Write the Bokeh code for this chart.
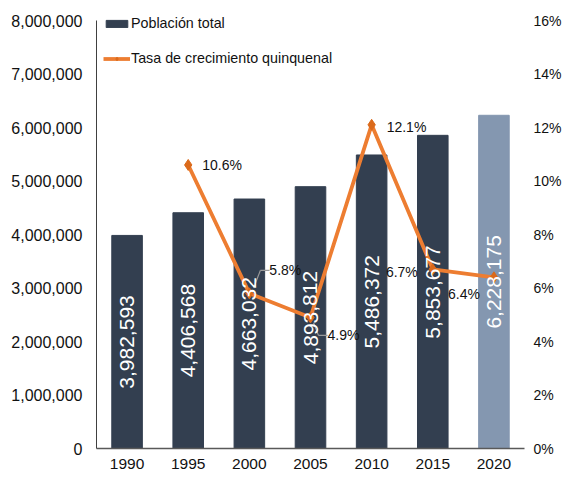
from bokeh.plotting import figure
from bokeh.models import (FactorRange, Range1d, LinearAxis, FixedTicker,
                          NumeralTickFormatter, ColumnDataSource, Legend, LegendItem)
from bokeh.transform import dodge
from bokeh.embed import file_html
from bokeh.resources import INLINE
from bokeh.core.properties import value

years = ["1990", "1995", "2000", "2005", "2010", "2015", "2020"]
population = [3982593, 4406568, 4663032, 4893812, 5486372, 5853677, 6228175]
rate_years = ["1995", "2000", "2005", "2010", "2015", "2020"]
rate = [10.6, 5.8, 4.9, 12.1, 6.7, 6.4]

FONT = "Liberation Sans, Arial, sans-serif"
TXT = "#111111"

bar_colors = ["#333f50"] * 6 + ["#8497b0"]

# frame is a little taller than the axes so the legend is not clipped; axes are bounded
POP_MAX, PCT_MAX = 8000000, 0.16
STRETCH = 438 / 428

p = figure(width=567, height=483, x_range=FactorRange(*years, range_padding=0),
           y_range=Range1d(0, POP_MAX * STRETCH), output_backend="svg", toolbar_location=None,
           min_border_left=96, min_border_right=43, min_border_top=10, min_border_bottom=35)
p.extra_y_ranges = {"pct": Range1d(0, PCT_MAX * STRETCH)}
p.outline_line_color = None
p.xgrid.visible = False
p.ygrid.visible = False

src = ColumnDataSource(dict(x=years, top=population, color=bar_colors,
                            half=[v / 2 for v in population],
                            lab=[f"{v:,}" for v in population]))
bars = p.vbar(x="x", top="top", width=0.5, color="color", source=src)

# leader lines for two labels (offsets relative to their points: category units, percent points)
leader_pts = {"2000": ([0.07, 0.18, 0.33], [0.2, 0.86, 0.86]),
              "2005": ([0.05, 0.13, 0.28], [-0.2, -0.67, -0.67])}
for yr, (dxs, dys) in leader_pts.items():
    r = rate[rate_years.index(yr)]
    for k in range(len(dxs) - 1):
        s = ColumnDataSource(dict(x=[yr], y0=[(r + dys[k]) / 100], y1=[(r + dys[k + 1]) / 100]))
        p.segment(x0=dodge("x", dxs[k], range=p.x_range), x1=dodge("x", dxs[k + 1], range=p.x_range),
                  y0="y0", y1="y1", source=s, y_range_name="pct",
                  line_color="#9a9a9a", line_width=1.2)

lsrc = ColumnDataSource(dict(x=rate_years, y=[r / 100 for r in rate],
                             lab=[f"{r:.1f}%" for r in rate]))
ln = p.line(x="x", y="y", source=lsrc, y_range_name="pct", line_color="#ed7d31", line_width=3.8)
mk = p.scatter(x="x", y="y", source=lsrc, y_range_name="pct", marker="diamond", size=11,
               fill_color="#db6a1b", line_color="#db6a1b")

# bar value labels (rotated, centred in bar)
p.text(x="x", y="half", text="lab", source=src, angle=1.5708, text_color="white",
       text_font=value(FONT), text_font_size="21px", text_align="center", text_baseline="middle")

# percentage labels: per-point placement (layout only)
lsrc.data["xo"] = [14, 20, 17, 15, -15, -14]
lsrc.data["yo"] = [0, -23, 18, 2, 3, 17]
lsrc.data["al"] = ["left", "left", "left", "left", "right", "right"]
p.text(x="x", y="y", text="lab", source=lsrc, y_range_name="pct", x_offset="xo", y_offset="yo",
       text_align="al", text_font=value(FONT), text_font_size="14px", text_color=TXT,
       text_baseline="middle")

# axes
p.yaxis.ticker = FixedTicker(ticks=[i * 1000000 for i in range(9)])
p.yaxis.formatter = NumeralTickFormatter(format="0,0")
p.yaxis.bounds = (0, POP_MAX)
p.yaxis.major_label_text_font = FONT
p.yaxis.major_label_text_font_size = "16px"
p.yaxis.major_label_text_color = TXT
p.yaxis.major_tick_line_color = None
p.yaxis.major_tick_out = 0
p.yaxis.major_tick_in = 0
p.yaxis.minor_tick_line_color = None
p.yaxis.minor_tick_out = 0
p.yaxis.axis_line_color = "#404040"
p.yaxis.major_label_standoff = 14

p.xaxis.major_label_text_font = FONT
p.xaxis.major_label_text_font_size = "15.5px"
p.xaxis.major_label_text_color = TXT
p.xaxis.major_tick_line_color = None
p.xaxis.major_tick_out = 0
p.xaxis.major_tick_in = 0
p.xaxis.axis_line_color = "#595959"
p.xaxis.axis_line_width = 1.3
p.xaxis.major_label_standoff = 10

ra = LinearAxis(y_range_name="pct", ticker=FixedTicker(ticks=[i / 100 for i in range(0, 17, 2)]),
                formatter=NumeralTickFormatter(format="0%"), bounds=(0, PCT_MAX))
ra.major_label_text_font = FONT
ra.major_label_text_font_size = "14px"
ra.major_label_text_color = TXT
ra.major_tick_line_color = None
ra.major_tick_out = 0
ra.major_tick_in = 0
ra.minor_tick_line_color = None
ra.minor_tick_out = 0
ra.axis_line_color = None
ra.major_label_standoff = 9
p.add_layout(ra, "right")

legend = Legend(items=[LegendItem(label="Población total", renderers=[bars]),
                       LegendItem(label="Tasa de crecimiento quinquenal", renderers=[ln, mk])],
                location=(7, 380), glyph_width=27, glyph_height=9, label_height=20,
                spacing=15, padding=0, margin=0, label_standoff=1,
                label_text_font=FONT, label_text_font_size="14.3px", label_text_color=TXT,
                border_line_color=None, background_fill_alpha=0)
p.add_layout(legend, "center")

open("out.html", "w").write(file_html(p, INLINE))
